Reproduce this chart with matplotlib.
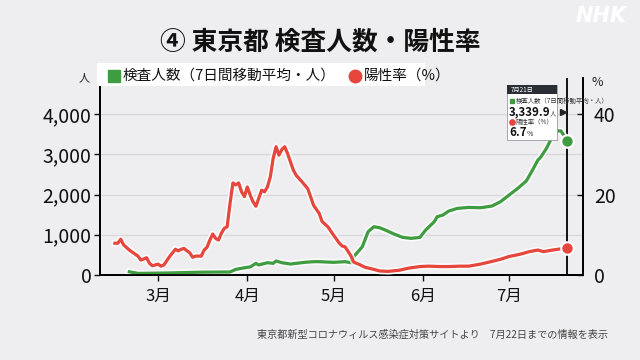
import pandas as pd
import matplotlib
matplotlib.use("Agg")
import matplotlib.pyplot as plt
import matplotlib.patheffects as pe
from matplotlib.patches import Rectangle
from matplotlib.lines import Line2D

plt.rcParams['font.family'] = ['Noto Sans CJK JP', 'DejaVu Sans']

# ---- data (2020) ----
red_dates = ["02-15", "02-16", "02-17", "02-18", "02-20", "02-22", "02-23", "02-24", "02-26", "02-27",
             "02-28", "03-01", "03-02", "03-03", "03-05", "03-07", "03-08", "03-09", "03-10", "03-12",
             "03-13", "03-14", "03-16", "03-17", "03-18", "03-19", "03-20", "03-21", "03-22", "03-23",
             "03-24", "03-25", "03-26", "03-27", "03-28", "03-29", "03-30", "03-31", "04-01", "04-02",
             "04-03", "04-04", "04-05", "04-06", "04-07", "04-08", "04-09", "04-10", "04-11", "04-12",
             "04-13", "04-14", "04-15", "04-17", "04-18", "04-20", "04-22", "04-23", "04-24", "04-26",
             "04-27", "04-29", "05-01", "05-03", "05-04", "05-05", "05-07", "05-08", "05-10", "05-12",
             "05-15", "05-17", "05-20", "05-24", "05-27", "05-31", "06-03", "06-07", "06-10", "06-14",
             "06-17", "06-21", "06-24", "06-28", "07-01", "07-05", "07-08", "07-11", "07-13", "07-16",
             "07-19", "07-21"]
red_vals = [7.9, 7.9, 8.9, 7.5, 6.2, 5.2, 4.7, 3.7, 4.3, 2.9,
            2.3, 2.7, 2.2, 2.5, 4.6, 6.4, 6.0, 6.4, 6.6, 5.5,
            4.4, 4.7, 4.7, 6.2, 6.9, 8.7, 10.2, 9.1, 8.7, 10.4,
            11.6, 12.0, 17.8, 22.9, 22.4, 22.9, 20.7, 19.5, 21.9, 19.9,
            18.2, 17.1, 19.1, 21.1, 20.7, 21.9, 24.4, 29.0, 31.9, 29.8,
            31.2, 31.9, 30.2, 26.1, 24.8, 23.2, 21.5, 19.5, 17.4, 15.3,
            13.3, 12.0, 9.9, 7.9, 7.2, 7.0, 4.8, 3.2, 2.6, 1.9,
            1.4, 1.0, 0.9, 1.2, 1.7, 2.1, 2.2, 2.1, 2.1, 2.2,
            2.2, 2.7, 3.2, 3.9, 4.6, 5.2, 5.8, 6.2, 5.8, 6.2,
            6.5, 6.7]

green_dates = ["02-20", "02-23", "03-04", "03-16", "03-26", "03-28", "03-30", "04-01", "04-02", "04-04",
               "04-05", "04-08", "04-10", "04-11", "04-13", "04-16", "04-18", "04-21", "04-24", "04-26",
               "05-01", "05-05", "05-07", "05-08", "05-10", "05-11", "05-13", "05-15", "05-17", "05-19",
               "05-22", "05-25", "05-28", "05-31", "06-02", "06-05", "06-06", "06-08", "06-10", "06-13",
               "06-17", "06-21", "06-25", "06-28", "07-01", "07-04", "07-07", "07-09", "07-11", "07-12",
               "07-14", "07-16", "07-18", "07-19", "07-20", "07-21"]
green_vals = [80, 40, 50, 70, 75, 140, 166, 191, 200, 290,
              250, 306, 290, 348, 306, 273, 290, 315, 331, 331,
              315, 331, 306, 456, 621, 704, 1077, 1201, 1176, 1118,
              1019, 936, 911, 936, 1118, 1325, 1449, 1491, 1590, 1656,
              1681, 1673, 1714, 1822, 1988, 2153, 2340, 2590, 2857, 2930,
              3150, 3437, 3585, 3585, 3478, 3339.9]

left_ticks = [0, 1000, 2000, 3000, 4000]
right_ticks = [0, 20, 40]
month_ticks = ["2020-03-01", "2020-04-01", "2020-05-01", "2020-06-01", "2020-07-01"]
month_labels = ["3月", "4月", "5月", "6月", "7月"]

title = "④ 東京都 検査人数・陽性率"
legend_green = "検査人数（7日間移動平均・人）"
legend_red = "陽性率（%）"
source = "東京都新型コロナウィルス感染症対策サイトより　7月22日までの情報を表示"

red_x = pd.to_datetime(["2020-" + d for d in red_dates])
green_x = pd.to_datetime(["2020-" + d for d in green_dates])

GREEN = "#3f9c41"
RED = "#e6463b"
BG = "#eeeef0"
W, H = 640, 360


def px(x, y):
    return x / W, 1 - y / H


fig = plt.figure(figsize=(6.4, 3.6), dpi=100, facecolor=BG)
ax = fig.add_axes([100 / W, 1 - 275 / H, 483 / W, 197 / H])
ax.set_facecolor(BG)
ax2 = ax.twinx()

halo = [pe.Stroke(linewidth=4.8, foreground="white", alpha=0.75), pe.Normal()]
ax.plot(green_x, green_vals, color=GREEN, lw=2.3, path_effects=halo, zorder=3, solid_joinstyle="round")
ax2.plot(red_x, red_vals, color=RED, lw=2.3, path_effects=halo, zorder=3, solid_joinstyle="round")

# crosshair on last day
ax.axvline(green_x[-1], color="black", lw=1.3, zorder=2)
ax.plot(green_x[-1], green_vals[-1], "o", ms=9, mfc=GREEN, mec="white", mew=1.5, zorder=6)
ax2.plot(red_x[-1], red_vals[-1], "o", ms=9, mfc=RED, mec="white", mew=1.5, zorder=6)

ax.set_xlim(pd.Timestamp("2020-03-01") - pd.Timedelta(days=20.2),
            pd.Timestamp("2020-07-01") + pd.Timedelta(days=25.7))
ax.set_ylim(0, 4900)
ax2.set_ylim(0, 49)

ax.set_yticks(left_ticks)
ax.set_yticklabels([f"{v:,}" for v in left_ticks], fontsize=14)
ax2.set_yticks(right_ticks)
ax2.set_yticklabels([str(v) for v in right_ticks], fontsize=14)
ax.set_xticks(pd.to_datetime(month_ticks))
ax.set_xticklabels(month_labels, fontsize=12)

ax.yaxis.grid(True, color="#d9d9dd", lw=1)
ax.set_axisbelow(True)

for a in (ax, ax2):
    a.spines["top"].set_visible(False)
    for s in ("left", "right", "bottom"):
        a.spines[s].set_linewidth(1.3)
        a.spines[s].set_color("black")
ax.tick_params(axis="y", length=4, width=1, pad=2, colors="#111")
ax.tick_params(axis="x", length=4, width=1, pad=5, colors="#111")
ax2.tick_params(axis="y", direction="in", length=4, width=1, pad=8, colors="#111")

# axis unit labels
fig.text(*px(84, 78), "人", fontsize=8, ha="center", va="center", color="#222")
fig.text(*px(597, 82), "%", fontsize=9, ha="center", va="center", color="#222")

# title and logo
fig.text(*px(320, 42), title, fontsize=18.5, weight="bold", ha="center", va="center", color="#111")
fig.text(*px(601, 16), "NHK", fontsize=15, weight="bold", style="italic", ha="center", va="center",
         color="white", family="DejaVu Sans")

# legend box
fig.patches.append(Rectangle(px(97, 86), 328 / W, 23 / H, transform=fig.transFigure,
                             facecolor="white", edgecolor="none", zorder=5))
fig.add_artist(Line2D([px(114, 75.5)[0]], [px(114, 75.5)[1]], marker="s", ms=8.5, color=GREEN,
                      transform=fig.transFigure, zorder=6))
fig.text(*px(123, 75.5), legend_green, fontsize=10.5, ha="left", va="center", color="#111", zorder=6)
fig.add_artist(Line2D([px(355, 75.5)[0]], [px(355, 75.5)[1]], marker="o", ms=9, color=RED,
                      transform=fig.transFigure, zorder=6))
fig.text(*px(364, 75.5), legend_red, fontsize=10.5, ha="left", va="center", color="#111", zorder=6)

# tooltip
fig.patches.append(Rectangle(px(507, 140), 50 / W, 55 / H, transform=fig.transFigure,
                             facecolor="white", edgecolor="#9a9a9a", lw=0.6, zorder=7))
fig.patches.append(Rectangle(px(507, 94), 50 / W, 9 / H, transform=fig.transFigure,
                             facecolor="#2b2f35", edgecolor="none", zorder=8))
last = green_x[-1]
fig.text(*px(511, 89.5), f"{last.month}月{last.day}日", fontsize=4.5, color="white",
         ha="left", va="center", zorder=9)
fig.add_artist(Line2D([px(512, 101)[0]], [px(512, 101)[1]], marker="s", ms=3.5, color=GREEN,
                      transform=fig.transFigure, zorder=9))
fig.text(*px(516, 101), legend_green, fontsize=4.6, color="#333", ha="left", va="center", zorder=9)
fig.text(*px(509, 111.5), f"{green_vals[-1]:,.1f}", fontsize=8.3, weight="bold", color="#111",
         ha="left", va="center", zorder=9)
fig.text(*px(550, 113), "人", fontsize=4.6, color="#333", ha="left", va="center", zorder=9)
fig.add_artist(Line2D([px(563, 112)[0]], [px(563, 112)[1]], marker=">", ms=4, color="#222",
                      transform=fig.transFigure, zorder=9))
fig.add_artist(Line2D([px(512, 122)[0]], [px(512, 122)[1]], marker="o", ms=3.8, color=RED,
                      transform=fig.transFigure, zorder=9))
fig.text(*px(516, 122), legend_red, fontsize=4.6, color="#333", ha="left", va="center", zorder=9)
fig.text(*px(509, 133), f"{red_vals[-1]:.1f}", fontsize=8.3, weight="bold", color="#111",
         ha="left", va="center", zorder=9)
fig.text(*px(527, 134.5), "%", fontsize=5, color="#333", ha="left", va="center", zorder=9)

# source
fig.text(*px(608, 335), source, fontsize=7.3, color="#444", ha="right", va="center")

fig.savefig("out.png", dpi=100, facecolor=BG)
